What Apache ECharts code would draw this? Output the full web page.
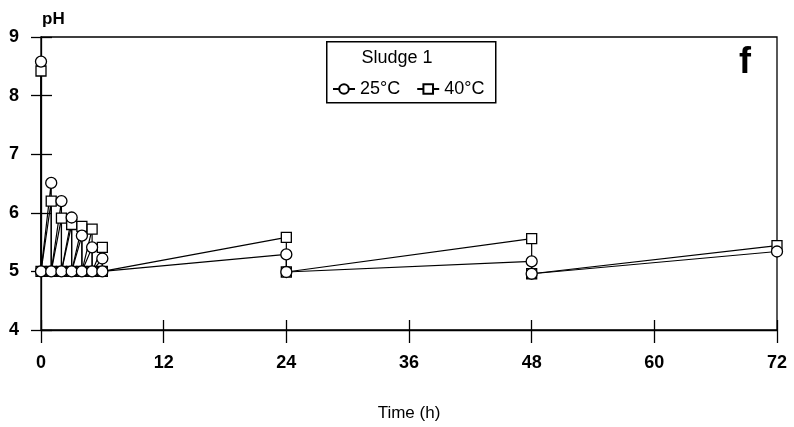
<!DOCTYPE html>
<html><head><meta charset="utf-8">
<script src="https://cdn.jsdelivr.net/npm/echarts@6/dist/echarts.min.js"></script>
<style>html,body{margin:0;padding:0;background:#fff}#c{width:794px;height:427px}</style>
</head><body><div id="c"></div>
<script>
// Time points (h): sawtooth with pH reset to ~5 after each reading
var times = [0, 0, 1, 1, 2, 2, 3, 3, 4, 4, 5, 5, 6, 6, 24, 24, 48, 48, 72];
var ph25  = [8.58, 5.0, 6.51, 5.0, 6.2, 5.0, 5.92, 5.0, 5.61, 5.0, 5.41, 5.0, 5.22, 5.0, 5.29, 4.99, 5.17, 4.96, 5.34];
var ph40  = [8.42, 5.0, 6.2, 5.0, 5.91, 5.0, 5.8, 5.0, 5.77, 5.0, 5.72, 5.0, 5.41, 5.0, 5.58, 4.99, 5.56, 4.96, 5.44];
var xTicks = [0, 12, 24, 36, 48, 60, 72];
var yTicks = [4, 5, 6, 7, 8, 9];
var seriesNames = ['25°C', '40°C'];

function pairs(ys){ return times.map(function(t,i){ return [t, ys[i]]; }); }

var font = 'Liberation Sans, Arial, sans-serif';
var chart = echarts.init(document.getElementById('c'));
var axisLine = {show: true, lineStyle: {color: '#000', width: 1.3}};
chart.setOption({
  animation: false,
  backgroundColor: '#fff',
  grid: {left: 41, right: 17, top: 37, bottom: 94, show: true, borderColor: '#000', borderWidth: 1.3, backgroundColor: 'transparent'},
  xAxis: [
    {type: 'value', min: xTicks[0], max: xTicks[xTicks.length-1], interval: 12, position: 'bottom',
     axisLine: axisLine, axisTick: {show: true, inside: false, length: 13, lineStyle: {color: '#000', width: 1.3}},
     axisLabel: {color: '#000', fontSize: 18, fontWeight: 'bold', fontFamily: font, margin: 24},
     splitLine: {show: false},
     name: 'Time (h)', nameLocation: 'middle', nameGap: 75,
     nameTextStyle: {color: '#000', fontSize: 17, fontFamily: font}},
    {type: 'value', min: xTicks[0], max: xTicks[xTicks.length-1], interval: 12, position: 'bottom', offset: 0,
     axisLine: {show: false}, axisTick: {show: true, inside: true, length: 10, lineStyle: {color: '#000', width: 1.3}},
     axisLabel: {show: false}, splitLine: {show: false}}
  ],
  yAxis: [
    {type: 'value', min: yTicks[0], max: yTicks[yTicks.length-1], interval: 1, position: 'left',
     axisLine: axisLine, axisTick: {show: true, inside: false, length: 10, lineStyle: {color: '#000', width: 1.3}},
     axisLabel: {color: '#000', fontSize: 18, fontWeight: 'bold', fontFamily: font, margin: 22},
     splitLine: {show: false}},
    {type: 'value', min: yTicks[0], max: yTicks[yTicks.length-1], interval: 1, position: 'left', offset: 0,
     axisLine: {show: false}, axisTick: {show: true, inside: true, length: 11, lineStyle: {color: '#000', width: 1.3}},
     axisLabel: {show: false}, splitLine: {show: false}}
  ],
  legend: {
    data: seriesNames, left: 332, top: 80, padding: 0, itemWidth: 22, itemHeight: 12, itemGap: 16,
    textStyle: {color: '#000', fontSize: 18, fontFamily: font, padding: [0,0,0,0]},
    z: 10
  },
  graphic: [
    {type: 'rect', left: 326, top: 41, shape: {width: 169, height: 61}, style: {fill: '#fff', stroke: '#000', lineWidth: 1.5}, z: 5},
    {type: 'text', left: 'center', x: 0, style: {text: 'Sludge 1', x: 410, y: 58, textAlign: 'center', textVerticalAlign: 'middle', fill: '#000', font: '18px ' + font}, z: 6},
    {type: 'text', style: {text: 'pH', x: 42, y: 19, textVerticalAlign: 'middle', fill: '#000', font: 'bold 17px ' + font}, z: 6},
    {type: 'text', style: {text: 'f', x: 745, y: 63, textAlign: 'center', textVerticalAlign: 'middle', fill: '#000', font: 'bold 36px ' + font}, z: 6}
  ],
  series: [
    {name: seriesNames[1], type: 'line', xAxisIndex: 0, yAxisIndex: 0, data: pairs(ph40),
     symbol: 'rect', symbolSize: 10, showAllSymbol: true,
     itemStyle: {color: '#fff', borderColor: '#000', borderWidth: 1.3},
     lineStyle: {color: '#000', width: 1.2}},
    {name: seriesNames[0], type: 'line', xAxisIndex: 0, yAxisIndex: 0, data: pairs(ph25),
     symbol: 'circle', symbolSize: 11, showAllSymbol: true,
     itemStyle: {color: '#fff', borderColor: '#000', borderWidth: 1.3},
     lineStyle: {color: '#000', width: 1.2}}
  ]
});
</script></body></html>
